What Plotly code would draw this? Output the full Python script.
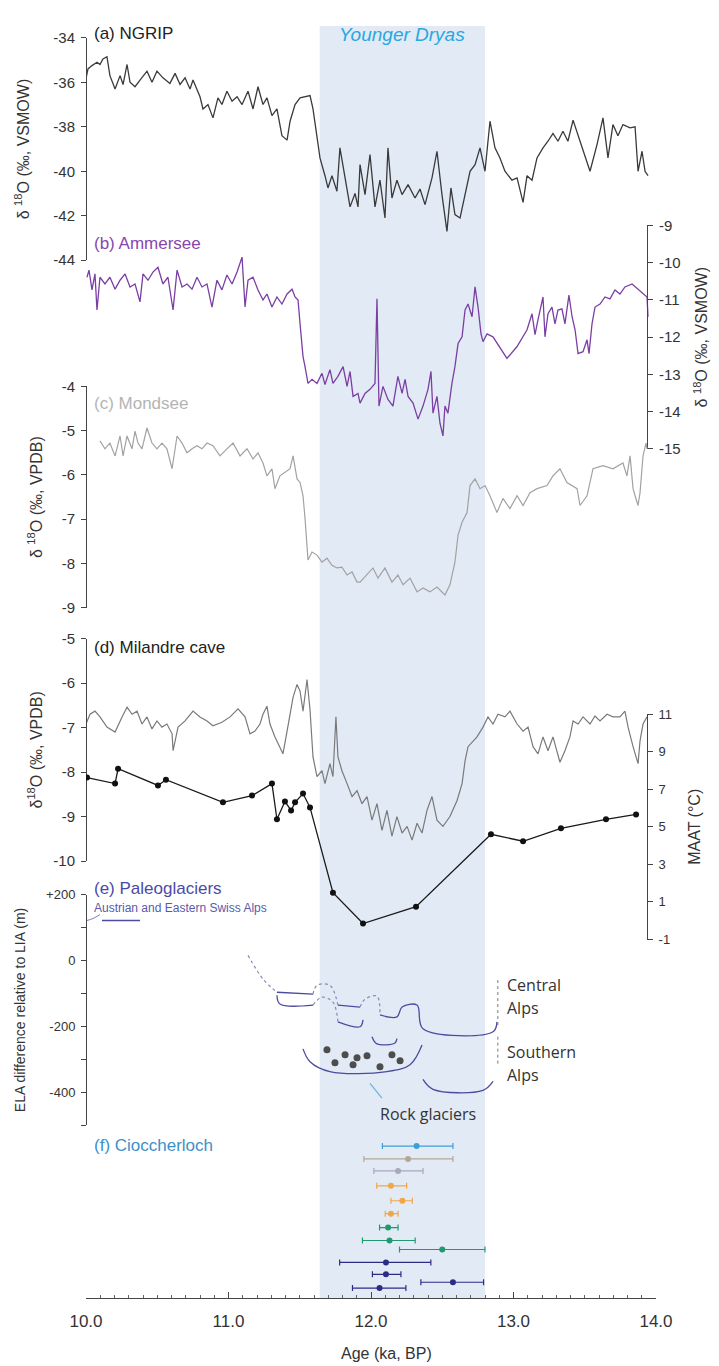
import plotly.graph_objects as go

# ---------------- DATA ----------------
ngrip_age = [10.0, 10.014, 10.042, 10.077, 10.098, 10.119, 10.147, 10.168, 10.204, 10.239, 10.26, 10.288, 10.309, 10.344,
             10.379, 10.428, 10.463, 10.498, 10.54, 10.589, 10.625, 10.66, 10.695, 10.73, 10.751, 10.8, 10.821, 10.856,
             10.891, 10.926, 10.954, 10.989, 11.025, 11.06, 11.095, 11.137, 11.172, 11.207, 11.242, 11.27, 11.305, 11.34,
             11.375, 11.411, 11.432, 11.467, 11.502, 11.537, 11.572, 11.593, 11.621, 11.642, 11.677, 11.698, 11.726,
             11.761, 11.782, 11.818, 11.853, 11.888, 11.909, 11.923, 11.958, 11.993, 12.028, 12.063, 12.098, 12.119,
             12.147, 12.182, 12.218, 12.26, 12.309, 12.344, 12.379, 12.428, 12.463, 12.498, 12.533, 12.561, 12.589,
             12.625, 12.66, 12.695, 12.73, 12.765, 12.8, 12.835, 12.87, 12.905, 12.94, 12.989, 13.025, 13.067, 13.095,
             13.13, 13.165, 13.207, 13.242, 13.277, 13.312, 13.347, 13.382, 13.418, 13.467, 13.537, 13.586, 13.628,
             13.663, 13.698, 13.733, 13.768, 13.818, 13.853, 13.874, 13.902, 13.923, 13.944]
ngrip_d18o = [-35.83, -35.4, -35.25, -35.1, -35.2, -34.95, -34.85, -35.7, -36.3, -35.7, -36.1, -35.2, -36.0, -36.2,
              -35.9, -35.5, -36.0, -35.5, -35.8, -36.05, -35.6, -36.1, -35.8, -36.3, -35.9, -36.65, -37.2, -37.0,
              -37.6, -36.7, -37.0, -36.4, -36.85, -36.65, -37.0, -36.4, -37.2, -36.2, -37.0, -36.7, -37.5, -37.2,
              -38.4, -38.6, -37.75, -37.0, -36.7, -36.65, -36.6, -37.2, -38.4, -39.4, -40.2, -40.75, -40.2,
              -40.9, -38.95, -40.4, -41.6, -41.0, -41.6, -39.7, -41.05, -39.25, -41.6, -40.4, -42.1, -38.95,
              -41.2, -40.4, -41.05, -40.6, -41.2, -40.8, -41.5, -40.3, -39.1, -41.05, -42.7, -40.75, -41.95,
              -42.1, -41.05, -40.0, -39.7, -38.95, -40.0, -37.75, -38.95, -39.4, -40.0, -40.4, -40.3, -41.4, -40.2,
              -40.4, -39.4, -38.95, -38.65, -38.3, -38.65, -38.2, -38.65, -37.7, -38.65, -40.0, -38.8, -37.6,
              -39.4, -37.9, -38.4, -37.9, -38.05, -38.0, -40.0, -39.1, -40.0, -40.2]

ammersee_age = [10.007, 10.021, 10.042, 10.063, 10.077, 10.098, 10.133, 10.168, 10.204, 10.239, 10.274, 10.309, 10.344,
                10.379, 10.4, 10.435, 10.47, 10.505, 10.54, 10.575, 10.611, 10.639, 10.674, 10.709, 10.744, 10.779,
                10.814, 10.849, 10.884, 10.919, 10.954, 10.989, 11.025, 11.06, 11.095, 11.116, 11.137, 11.172, 11.207,
                11.242, 11.27, 11.305, 11.34, 11.375, 11.411, 11.446, 11.467, 11.488, 11.502, 11.516, 11.523, 11.537,
                11.558, 11.586, 11.621, 11.656, 11.677, 11.712, 11.733, 11.768, 11.804, 11.832, 11.853, 11.874, 11.909,
                11.923, 11.958, 11.993, 12.028, 12.042, 12.056, 12.084, 12.119, 12.154, 12.189, 12.218, 12.239, 12.26,
                12.295, 12.33, 12.365, 12.4, 12.421, 12.435, 12.463, 12.484, 12.505, 12.519, 12.54, 12.568, 12.589,
                12.611, 12.639, 12.66, 12.681, 12.709, 12.73, 12.751, 12.772, 12.786, 12.814, 12.856, 12.954, 13.025,
                13.095, 13.13, 13.151, 13.172, 13.207, 13.221, 13.242, 13.27, 13.291, 13.312, 13.34, 13.361, 13.389,
                13.411, 13.432, 13.453, 13.488, 13.516, 13.53, 13.551, 13.572, 13.607, 13.642, 13.677, 13.712, 13.747,
                13.782, 13.832, 13.874, 13.909, 13.937, 13.944]
ammersee_d18o = [-10.39, -10.2, -10.73, -10.3, -11.27, -10.39, -10.57, -10.39, -10.71, -10.47, -10.3, -10.65, -10.57,
                 -11.05, -10.3, -10.47, -10.25, -10.12, -10.57, -10.39, -11.27, -10.2, -10.65, -10.57, -10.71, -10.39,
                 -10.65, -10.57, -11.19, -10.47, -10.73, -10.33, -10.57, -10.25, -9.85, -11.19, -10.47, -10.39, -10.73,
                 -11.0, -10.84, -11.19, -10.92, -11.11, -10.84, -10.71, -10.92, -11.0, -11.64, -12.33, -12.52, -12.79,
                 -13.24, -13.13, -13.24, -12.97, -13.27, -12.87, -13.24, -13.05, -12.79, -13.32, -12.92, -13.59, -13.51,
                 -13.77, -13.51, -13.4, -13.24, -10.97, -13.85, -13.32, -13.67, -13.85, -13.05, -13.51, -13.13, -13.59,
                 -13.77, -14.2, -13.85, -13.4, -12.92, -14.04, -13.59, -14.31, -14.65, -13.85, -14.04, -13.24, -12.79,
                 -12.17, -11.99, -11.27, -11.11, -11.45, -10.65, -11.19, -11.91, -12.12, -11.91, -11.99, -12.57, -12.25,
                 -11.8, -11.37, -11.93, -11.53, -10.92, -11.99, -11.37, -11.19, -11.64, -11.27, -11.24, -11.64, -10.87,
                 -11.45, -11.8, -12.44, -12.39, -12.07, -12.44, -11.64, -11.19, -11.11, -10.92, -10.97, -10.73, -10.84,
                 -10.65, -10.57, -10.71, -10.84, -10.92, -11.45]

mondsee_age = [10.098, 10.133, 10.168, 10.204, 10.239, 10.26, 10.288, 10.323, 10.344, 10.365, 10.393, 10.428, 10.463,
               10.498, 10.533, 10.568, 10.604, 10.639, 10.674, 10.709, 10.744, 10.779, 10.814, 10.849, 10.891, 10.94,
               10.989, 11.032, 11.081, 11.13, 11.172, 11.207, 11.242, 11.27, 11.305, 11.326, 11.361, 11.396, 11.432,
               11.453, 11.481, 11.502, 11.523, 11.537, 11.551, 11.558, 11.586, 11.621, 11.656, 11.691, 11.726, 11.761,
               11.796, 11.832, 11.867, 11.902, 11.923, 11.972, 12.014, 12.049, 12.098, 12.147, 12.189, 12.225, 12.274,
               12.323, 12.365, 12.414, 12.463, 12.519, 12.554, 12.589, 12.611, 12.639, 12.674, 12.695, 12.73, 12.765,
               12.8, 12.835, 12.884, 12.926, 12.975, 13.025, 13.067, 13.116, 13.165, 13.235, 13.277, 13.326, 13.375,
               13.446, 13.467, 13.516, 13.558, 13.628, 13.698, 13.768, 13.796, 13.818, 13.839, 13.853, 13.874, 13.888,
               13.909, 13.93, 13.937]
mondsee_d18o = [-5.23, -5.41, -5.28, -5.57, -5.12, -5.57, -5.12, -5.41, -5.01, -5.28, -5.41, -4.94, -5.28,
                -5.41, -5.28, -5.41, -5.86, -5.12, -5.28, -5.5, -5.41, -5.34, -5.41, -5.28, -5.34, -5.57,
                -5.41, -5.28, -5.57, -5.41, -5.64, -5.5, -5.73, -6.02, -5.86, -6.31, -6.02, -5.95, -5.86,
                -5.57, -6.09, -6.17, -6.47, -6.98, -7.74, -7.92, -7.74, -7.81, -7.97, -7.88, -8.04, -8.1,
                -8.08, -8.26, -8.19, -8.42, -8.42, -8.26, -8.1, -8.33, -8.1, -8.42, -8.26, -8.48, -8.33,
                -8.64, -8.55, -8.64, -8.53, -8.71, -8.48, -7.97, -7.36, -7.07, -6.85, -6.24, -6.09, -6.31,
                -6.24, -6.47, -6.85, -6.53, -6.76, -6.47, -6.69, -6.4, -6.31, -6.24, -6.02, -5.86, -6.17,
                -6.31, -6.69, -6.47, -5.86, -5.79, -5.86, -5.73, -6.02, -5.57, -6.31, -6.47, -6.69, -6.4,
                -5.57, -5.28, -5.41]

milandre_age = [10.0, 10.028, 10.063, 10.098, 10.147, 10.204, 10.253, 10.288, 10.323, 10.358, 10.393, 10.428, 10.463,
                10.498, 10.533, 10.568, 10.604, 10.611, 10.646, 10.695, 10.751, 10.8, 10.849, 10.891, 10.954, 11.011,
                11.067, 11.116, 11.151, 11.186, 11.221, 11.242, 11.27, 11.291, 11.326, 11.361, 11.382, 11.411, 11.432,
                11.453, 11.481, 11.502, 11.523, 11.551, 11.572, 11.593, 11.621, 11.656, 11.677, 11.712, 11.733, 11.754,
                11.768, 11.796, 11.832, 11.867, 11.902, 11.937, 11.972, 12.007, 12.042, 12.077, 12.112, 12.147, 12.182,
                12.218, 12.253, 12.288, 12.323, 12.358, 12.393, 12.428, 12.463, 12.505, 12.554, 12.604, 12.639, 12.66,
                12.681, 12.744, 12.786, 12.821, 12.856, 12.891, 12.94, 12.975, 13.025, 13.067, 13.102, 13.137, 13.172,
                13.207, 13.242, 13.277, 13.326, 13.361, 13.396, 13.418, 13.453, 13.488, 13.537, 13.572, 13.607, 13.656,
                13.698, 13.747, 13.782, 13.804, 13.839, 13.874, 13.888, 13.909, 13.937]
milandre_d18o = [-6.92, -6.7, -6.63, -6.76, -6.99, -7.1, -6.76, -6.54, -6.7, -6.63, -6.92, -6.76, -7.03,
                 -6.85, -6.99, -6.92, -7.14, -7.52, -6.99, -6.85, -6.63, -6.76, -6.85, -6.96, -6.88, -6.76,
                 -6.58, -6.76, -7.14, -7.08, -6.92, -6.7, -6.52, -6.92, -7.21, -7.43, -7.59, -7.08, -6.7,
                 -6.32, -6.03, -6.18, -6.63, -5.92, -6.6, -7.66, -8.1, -7.97, -8.26, -7.81, -8.1, -6.76,
                 -7.66, -7.97, -8.26, -8.55, -8.42, -8.71, -8.55, -9.08, -8.71, -9.31, -8.86, -9.44, -9.0,
                 -9.37, -9.22, -9.53, -9.15, -9.37, -8.86, -8.55, -9.08, -9.22, -9.0, -8.64, -8.26, -7.75,
                 -7.43, -7.21, -6.99, -6.76, -6.92, -6.7, -6.76, -6.63, -6.92, -7.08, -6.99, -7.43, -7.59,
                 -7.21, -7.52, -7.21, -7.78, -7.52, -7.21, -6.85, -6.92, -6.76, -6.92, -6.74, -6.85, -6.7,
                 -6.76, -6.76, -6.63, -6.99, -7.43, -7.81, -7.3, -6.92, -6.76]

maat_age = [10.007, 10.204, 10.225, 10.505, 10.561, 10.961, 11.165, 11.305, 11.34, 11.396, 11.439, 11.467, 11.523,
            11.572, 11.733, 11.944, 12.316, 12.842, 13.067, 13.333, 13.649, 13.86]
maat_c = [7.62, 7.30, 8.09, 7.2, 7.51, 6.3, 6.66, 7.3, 5.4, 6.35, 5.87, 6.3, 6.77,
          6.03, 1.49, -0.15, 0.75, 4.6, 4.23, 4.92, 5.4, 5.66]

# Paleoglacier ELA reconstructions (age ka, ELA difference m)
central1_age = [11.137, 11.242, 11.34, 11.593, 11.621, 11.712, 11.768, 11.923, 11.958, 12.042, 12.063, 12.182,
                12.218, 12.323, 12.365, 12.856, 12.884]
central1_ela = [16, -56, -96, -102, -75, -75, -135, -141, -117, -108, -165, -171, -141, -135, -207, -216, -186]
central1_dotted = [1, 1, 0, 1, 1, 1, 0, 1, 1, 1, 0, 0, 0, 0, 0, 0]
central2_age = [11.34, 11.361, 11.593, 11.656, 11.733, 11.768, 11.923, 11.944]
central2_ela = [-105, -132, -135, -111, -126, -186, -201, -180]
central2_dotted = [0, 0, 1, 1, 1, 0, 0]
central3_age = [12.007, 12.042, 12.168, 12.182]
central3_ela = [-231, -253, -250, -237]
rock_age = [11.523, 11.572, 11.712, 12.112, 12.274, 12.358]
rock_ela = [-268, -307, -337, -337, -316, -256]
rock_dot_age = [11.691, 11.818, 11.902, 11.972, 12.147, 11.747, 11.874, 12.063, 12.204]
rock_dot_ela = [-271, -286, -295, -289, -286, -310, -316, -322, -304]
southern_age = [12.365, 12.435, 12.786, 12.856]
southern_ela = [-361, -391, -394, -367]
austrian_age = [10.112, 10.379]
austrian_ela = [122, 122]
austrian_hook_age = [10.007, 10.049, 10.098]
austrian_hook_ela = [122, 128, 140]
bracket_age = 12.89
central_bracket_ela = [-59, -201]
southern_bracket_ela = [-231, -313]
rock_pointer_age = [11.993, 12.077]
rock_pointer_ela = [-373, -418]

# Ciocherloch ages (ka) with 2-sigma ranges, stacked order
cioc_age = [12.32, 12.26, 12.19, 12.14, 12.22, 12.14, 12.12, 12.13, 12.50, 12.105, 12.105, 12.575, 12.06]
cioc_lo = [12.08, 11.95, 12.02, 12.04, 12.14, 12.10, 12.06, 11.94, 12.20, 11.78, 12.01, 12.35, 11.87]
cioc_hi = [12.575, 12.575, 12.365, 12.25, 12.29, 12.19, 12.19, 12.31, 12.80, 12.42, 12.21, 12.79, 12.245]
cioc_row = [1, 2.09, 3.1, 4.36, 5.62, 6.71, 7.89, 8.98, 9.74, 10.83, 11.84, 12.51, 13.0]
cioc_colors = ['#3d9fd6', '#b3a796', '#a9a9ba', '#f2a64a', '#f2a64a', '#f2a64a', '#1f9a6f', '#1f9a6f',
               '#1f9a6f', '#2b2d85', '#2b2d85', '#2b2d85', '#2b2d85']

yd_start, yd_end = 11.64, 12.80
x_ticks = [10.0, 11.0, 12.0, 13.0, 14.0]
ngrip_ticks = [-34, -36, -38, -40, -42, -44]
ammersee_ticks = [-9, -10, -11, -12, -13, -14, -15]
mondsee_ticks = [-4, -5, -6, -7, -8, -9]
milandre_ticks = [-5, -6, -7, -8, -9, -10]
maat_ticks = [11, 9, 7, 5, 3, 1, -1]
ela_ticks = [200, 0, -200, -400]
ela_ticktext = ['+200', '0', '-200', '-400']
ela_minor = [100, -100, -300, -500]

# ---------------- LAYOUT HELPERS ----------------
W, H = 719, 1366
ML, MR, MT, MB = 86, 63, 0, 68
PW, PH = W - ML - MR, H - MT - MB
FONT = 'Liberation Sans, Arial, sans-serif'
HUM = 'Open Sans, Lato, sans-serif'


def fx(p):
    return (p - ML) / PW


def fy(p):
    return (MT + PH - p) / PH


def dom(top, bottom):
    return [fy(bottom), fy(top)]


def lbl(vals):
    return [str(v) for v in vals]


fig = go.Figure()


def line(x, y, ax, color, width=1.2, dash='solid', shape='linear'):
    fig.add_trace(go.Scatter(x=x, y=y, mode='lines', yaxis=ax, xaxis='x',
                             line=dict(color=color, width=width, dash=dash, shape=shape, smoothing=1.0),
                             showlegend=False, hoverinfo='skip', connectgaps=False))


def runs(ax, ay, flags):
    sx, sy, dx, dy = [], [], [], []
    i = 0
    n = len(flags)
    while i < n:
        f = flags[i]
        j = i
        while j < n and flags[j] == f:
            j += 1
        tx, ty = (dx, dy) if f else (sx, sy)
        tx += list(ax[i:j + 1]) + [None]
        ty += list(ay[i:j + 1]) + [None]
        i = j
    return sx, sy, dx, dy


# time series
line(ngrip_age, ngrip_d18o, 'y', '#3a3a3a', 1.3)
line(ammersee_age, ammersee_d18o, 'y2', '#7b3fa3', 1.3)
line(mondsee_age, mondsee_d18o, 'y3', '#a2a2a2', 1.2)
line(milandre_age, milandre_d18o, 'y4', '#7a7a7a', 1.2)
fig.add_trace(go.Scatter(x=maat_age, y=maat_c, mode='lines+markers', yaxis='y5', xaxis='x',
                         line=dict(color='#1a1a1a', width=1.3), marker=dict(color='#111', size=6),
                         showlegend=False, hoverinfo='skip'))

# paleoglaciers
GL = '#4b4b9f'
for a, e, fl in [(central1_age, central1_ela, central1_dotted), (central2_age, central2_ela, central2_dotted)]:
    sx, sy, dx, dy = runs(a, e, fl)
    line(sx, sy, 'y6', GL, 1.3, 'solid', 'spline')
    line(dx, dy, 'y6', '#8a8ab8', 1.2, 'dot', 'spline')
line(central3_age, central3_ela, 'y6', GL, 1.3, 'solid', 'spline')
line(rock_age, rock_ela, 'y6', GL, 1.3, 'solid', 'spline')
line(southern_age, southern_ela, 'y6', GL, 1.3, 'solid', 'spline')
line(austrian_age, austrian_ela, 'y6', GL, 1.3)
line(austrian_hook_age, austrian_hook_ela, 'y6', '#7c7cb4', 1.0, 'solid', 'spline')
line([bracket_age, bracket_age], central_bracket_ela, 'y6', '#777', 1.0, 'dot')
line([bracket_age, bracket_age], southern_bracket_ela, 'y6', '#777', 1.0, 'dot')
line(rock_pointer_age, rock_pointer_ela, 'y6', '#62b4dc', 1.2)
fig.add_trace(go.Scatter(x=rock_dot_age, y=rock_dot_ela, mode='markers', yaxis='y6', xaxis='x',
                         marker=dict(color='#4d4d4d', size=7, symbol='circle'), showlegend=False,
                         hoverinfo='skip'))

# Ciocherloch
for a, lo, hi, r, c in zip(cioc_age, cioc_lo, cioc_hi, cioc_row, cioc_colors):
    fig.add_trace(go.Scatter(x=[a], y=[r], mode='markers', yaxis='y7', xaxis='x',
                             marker=dict(color=c, size=6),
                             error_x=dict(type='data', symmetric=False, array=[hi - a], arrayminus=[a - lo],
                                          color=c, thickness=1.2, width=3),
                             showlegend=False, hoverinfo='skip'))

ax_common = dict(showline=True, linecolor='#444', linewidth=1, ticks='outside', ticklen=5, tickcolor='#444',
                 tickwidth=1, showgrid=False, zeroline=False, ticklabelstandoff=3)
tf15 = dict(tickfont=dict(family=FONT, size=15, color='#333'))
tf13 = dict(tickfont=dict(family=FONT, size=13, color='#333'))


def ttl(text, size, standoff):
    return dict(text=text, font=dict(family=FONT, size=size, color='#333'), standoff=standoff)


left = dict(anchor='free', position=0, side='left')
right = dict(anchor='free', position=fx(647), side='right')

fig.update_layout(
    width=W, height=H, margin=dict(l=ML, r=MR, t=MT, b=MB), paper_bgcolor='white', plot_bgcolor='rgba(0,0,0,0)',
    showlegend=False,
    xaxis=dict(range=[10, 14], domain=[0, 1], anchor='free', position=0, showline=True, linecolor='#444',
               linewidth=1, ticks='inside', ticklen=6, tickcolor='#444', tickvals=x_ticks,
               ticktext=[f'{v:.1f}' for v in x_ticks], tickfont=dict(family=FONT, size=17, color='#333'),
               ticklabelstandoff=8, showgrid=False, zeroline=False,
               minor=dict(ticks='inside', dtick=0.1, ticklen=3, tickcolor='#666', showgrid=False)),
    yaxis=dict(domain=dom(29, 253), range=[-44, -34], tickvals=ngrip_ticks, ticktext=lbl(ngrip_ticks),
               title=ttl('δ <sup>18</sup>O (‰, VSMOW)', 16, 18), **left, **ax_common, **tf15),
    yaxis2=dict(domain=dom(218, 443), range=[-15, -9], tickvals=ammersee_ticks, ticktext=lbl(ammersee_ticks),
                title=ttl('δ <sup>18</sup>O (‰, VSMOW)', 16, 16), **right, **ax_common, **tf15),
    yaxis3=dict(domain=dom(380, 603), range=[-9, -4], tickvals=mondsee_ticks, ticktext=lbl(mondsee_ticks),
                title=ttl('δ <sup>18</sup>O (‰, VPDB)', 16, 14), **left, **ax_common, **tf15),
    yaxis4=dict(domain=dom(634, 858), range=[-10, -5], tickvals=milandre_ticks, ticktext=lbl(milandre_ticks),
                title=ttl('δ<sup>18</sup>O (‰, VPDB)', 16, 5), **left, **ax_common, **tf15),
    yaxis5=dict(domain=dom(710, 937), range=[-1, 11], tickvals=maat_ticks, ticktext=lbl(maat_ticks),
                title=ttl('MAAT (°C)', 16, 17), **right, **ax_common, **tf13),
    yaxis6=dict(domain=dom(892, 1124), range=[-500, 200], tickvals=ela_ticks, ticktext=ela_ticktext,
                minor=dict(tickvals=ela_minor, ticks='outside', ticklen=5, tickcolor='#444', showgrid=False),
                title=ttl('ELA difference relative to LIA (m)', 14, 16), **left, **ax_common, **tf13),
    yaxis7=dict(domain=dom(1135, 1298), range=[13.84, 0.161], anchor='free', position=0, showline=False,
                showticklabels=False, ticks='', showgrid=False, zeroline=False),
)

# Younger Dryas band
fig.add_shape(type='rect', xref='x', yref='paper', x0=yd_start, x1=yd_end, y0=0, y1=fy(17),
              fillcolor='#e1eaf5', line=dict(width=0), layer='below')


def ann(text, xp, yp, size=18, color='#222', xanchor='left', family=FONT, angle=0, style='normal'):
    fig.add_annotation(text=text, x=fx(xp), y=fy(yp), xref='paper', yref='paper', showarrow=False,
                       xanchor=xanchor, yanchor='middle', textangle=angle,
                       font=dict(size=size, color=color, family=family, style=style))


ann('Younger Dryas', 402, 26, 19, '#2aa7e0', 'center', style='italic')
ann('(a) NGRIP', 92, 25, 17, '#222')
ann('(b) Ammersee', 92, 236, 17, '#8747ad')
ann('(c) Mondsee', 92, 397, 17, '#b4b4b4')
ann('(d) Milandre cave', 92, 643, 17, '#222')
ann('(e) Paleoglaciers', 92, 886, 17, '#4a4aa6')
ann('Austrian and Eastern Swiss Alps', 92, 905, 12, '#5a5aaa')
ann('(f) Cioccherloch', 92, 1144, 17, '#3d8fc9')
ann('Central', 505, 983, 16, '#333', family=HUM)
ann('Alps', 505, 1006, 16, '#333', family=HUM)
ann('Southern', 505, 1050, 16, '#333', family=HUM)
ann('Alps', 505, 1073, 16, '#333', family=HUM)
ann('Rock glaciers', 378, 1113, 16, '#333', family=HUM)
ann('Age (ka, BP)', 386, 1354, 16, '#333', 'center')

fig.write_html('out.html')
